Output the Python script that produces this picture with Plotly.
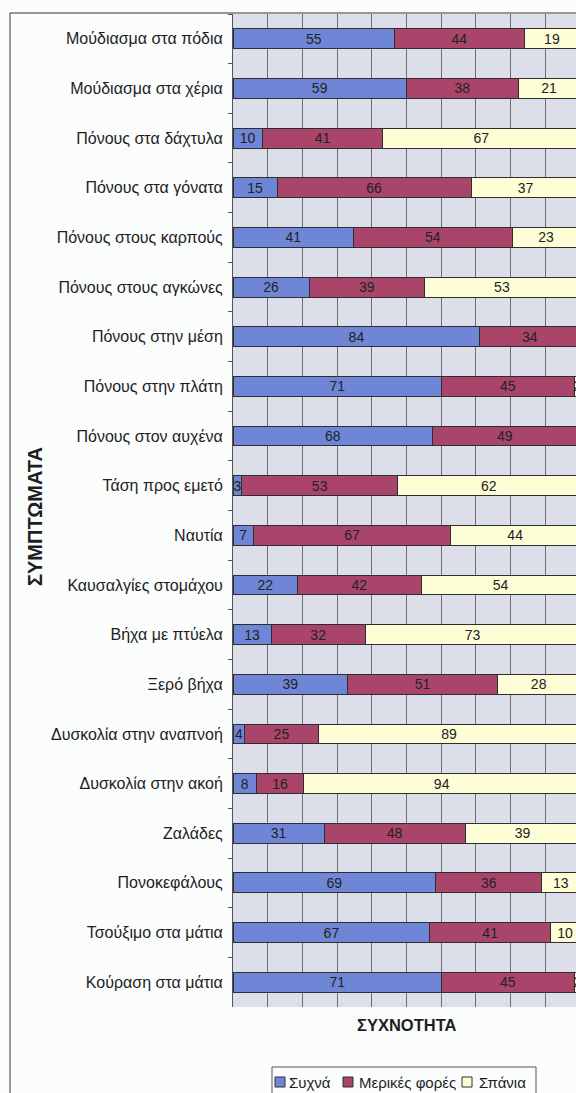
import plotly.graph_objects as go

# Symptom categories, top to bottom
symptoms = [
    "Μούδιασμα στα πόδια",
    "Μούδιασμα στα χέρια",
    "Πόνους στα δάχτυλα",
    "Πόνους στα γόνατα",
    "Πόνους στους καρπούς",
    "Πόνους στους αγκώνες",
    "Πόνους στην μέση",
    "Πόνους στην πλάτη",
    "Πόνους στον αυχένα",
    "Τάση προς εμετό",
    "Ναυτία",
    "Καυσαλγίες στομάχου",
    "Βήχα με πτύελα",
    "Ξερό βήχα",
    "Δυσκολία στην αναπνοή",
    "Δυσκολία στην ακοή",
    "Ζαλάδες",
    "Πονοκεφάλους",
    "Τσούξιμο στα μάτια",
    "Κούραση στα μάτια",
]

# Number of respondents per frequency answer
often = [55, 59, 10, 15, 41, 26, 84, 71, 68, 3, 7, 22, 13, 39, 4, 8, 31, 69, 67, 71]
sometimes = [44, 38, 41, 66, 54, 39, 34, 45, 49, 53, 67, 42, 32, 51, 25, 16, 48, 36, 41, 45]
rarely = [19, 21, 67, 37, 23, 53, 0, 2, 1, 62, 44, 54, 73, 28, 89, 94, 39, 13, 10, 2]

series_names = ["Συχνά", "Μερικές φορές", "Σπάνια"]
series_values = [often, sometimes, rarely]
series_colors = ["#6f86d6", "#a9456a", "#fdfdd6"]

respondents = 118  # total answers per symptom

FONT = "Liberation Sans, Arial, sans-serif"
INK = "#1e1e1e"
EDGE = "#2e2e2e"

fig = go.Figure()
for name, vals, col in zip(series_names, series_values, series_colors):
    fig.add_trace(go.Bar(
        y=symptoms,
        x=vals,
        name=name,
        orientation="h",
        marker=dict(color=col, line=dict(color=EDGE, width=1)),
        text=[str(v) for v in vals],
        textposition="inside",
        insidetextanchor="middle",
        insidetextfont=dict(family=FONT, size=14, color="#222222"),
        textangle=0,
        cliponaxis=True,
        hoverinfo="skip",
        showlegend=False,
    ))

W, H = 576, 1093
L, R, T, B = 233, 0, 14, 86
pw, ph = W - L - R, H - T - B
px_per_unit = 2.94
xmax = pw / px_per_unit


def px_x(p):
    return (p - L) / pw


def px_y(p):
    return (H - B - p) / ph


shapes = [
    # outer chart frame
    dict(type="rect", xref="paper", yref="paper",
         x0=px_x(10), x1=1.05, y0=px_y(1110), y1=px_y(13),
         line=dict(color="#333333", width=1), fillcolor="rgba(0,0,0,0)",
         layer="above"),
    # legend box
    dict(type="rect", xref="paper", yref="paper",
         x0=px_x(272), x1=px_x(536), y0=px_y(1100), y1=px_y(1067),
         line=dict(color="#555555", width=1), fillcolor="#fbfcfc",
         layer="above"),
]
annotations = [
    dict(text="<b>ΣΥΧΝΟΤΗΤΑ</b>", xref="paper", yref="paper",
         x=px_x(407), y=px_y(1025), xanchor="center", yanchor="middle",
         showarrow=False, font=dict(family=FONT, size=16.5, color=INK)),
    dict(text="<b>ΣΥΜΠΤΩΜΑΤΑ</b>", xref="paper", yref="paper",
         x=px_x(35), y=px_y(516), xanchor="center", yanchor="middle",
         textangle=-90, showarrow=False,
         font=dict(family=FONT, size=20, color=INK)),
]

# legend entries: swatch left edge and label left edge (px)
legend_swatch_x = [275, 343, 462]
legend_label_x = [287, 357, 477]
legend_cy = 1082
for name, col, sx, lx in zip(series_names, series_colors, legend_swatch_x, legend_label_x):
    shapes.append(dict(
        type="rect", xref="paper", yref="paper",
        x0=px_x(sx), x1=px_x(sx + 10), y0=px_y(legend_cy + 5), y1=px_y(legend_cy - 5),
        line=dict(color=EDGE, width=1), fillcolor=col, layer="above"))
    annotations.append(dict(
        text=name, xref="paper", yref="paper",
        x=px_x(lx), y=px_y(legend_cy), xanchor="left", yanchor="middle",
        showarrow=False, font=dict(family=FONT, size=15, color=INK)))

fig.update_layout(
    width=W,
    height=H,
    margin=dict(l=L, r=R, t=T, b=B),
    barmode="stack",
    bargap=0.6,
    paper_bgcolor="#fbfcfc",
    plot_bgcolor="#dcdee9",
    font=dict(family=FONT, size=16, color=INK),
    uniformtext=dict(minsize=14, mode="show"),
    showlegend=False,
    xaxis=dict(
        range=[0, xmax],
        tick0=0,
        dtick=respondents / 10,
        showgrid=True,
        gridcolor="#6e6e6e",
        gridwidth=1,
        showticklabels=False,
        ticks="",
        zeroline=False,
        showline=False,
        fixedrange=True,
    ),
    yaxis=dict(
        categoryorder="array",
        categoryarray=symptoms,
        autorange="reversed",
        showgrid=False,
        showline=True,
        linecolor="#555555",
        linewidth=1,
        ticks="outside",
        tickson="boundaries",
        ticklen=4,
        tickcolor="#555555",
        ticklabelstandoff=6,
        tickfont=dict(family=FONT, size=16, color=INK),
        fixedrange=True,
    ),
    shapes=shapes,
    annotations=annotations,
)

fig.write_html("out.html")
